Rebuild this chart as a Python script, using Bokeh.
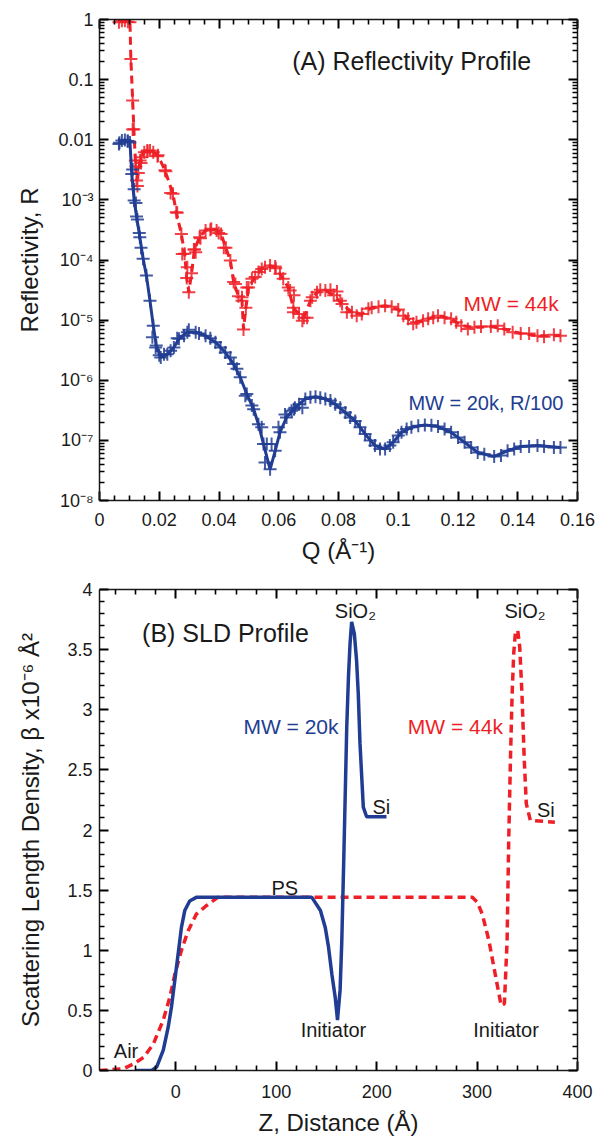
from bokeh.plotting import figure
from bokeh.models import (LinearAxis, LogAxis, FixedTicker, CustomJSTickFormatter, Range1d)
from bokeh.layouts import gridplot
from bokeh.embed import file_html
from bokeh.resources import INLINE
from bokeh.core.properties import value

# ---------------- data: (A) reflectivity, fitted curves ----------------
q_44k = [0.0065, 0.0075, 0.0085, 0.0095, 0.0102, 0.0105, 0.0111, 0.0115, 0.0120, 0.0124,
         0.0130, 0.0136, 0.0141, 0.0150, 0.0160, 0.0169, 0.0180, 0.0196, 0.0219, 0.0246,
         0.0257, 0.0274, 0.0285, 0.0292, 0.0299, 0.0308, 0.0318, 0.0335, 0.0355, 0.0374,
         0.0392, 0.0407, 0.0423, 0.0438, 0.0449, 0.0465, 0.0477, 0.0482, 0.0490, 0.0499,
         0.0521, 0.0543, 0.0571, 0.0590, 0.0604, 0.0632, 0.0649, 0.0668, 0.0684, 0.0706,
         0.0728, 0.0756, 0.0784, 0.0812, 0.0845, 0.0878, 0.0911, 0.0956, 0.1000, 0.1033,
         0.1061, 0.1100, 0.1133, 0.1177, 0.1211, 0.1255, 0.1310, 0.1355, 0.1410, 0.1466,
         0.1543]
r_44k = [0.90, 0.95, 0.95, 0.92, 0.90, 0.22, 0.045, 0.015, 0.0045, 0.0021,
         0.0028, 0.0045, 0.0051, 0.0062, 0.0066, 0.0066, 0.0062, 0.0055, 0.0031, 0.00126,
         6.2e-4, 2.7e-4, 1.27e-4, 5.0e-5, 2.9e-5, 6.0e-5, 1.5e-4, 2.4e-4, 3.1e-4, 3.3e-4,
         3.1e-4, 2.7e-4, 1.6e-4, 9.8e-5, 4.3e-5, 2.5e-5, 2.1e-5, 7.0e-6, 1.6e-5, 3.5e-5,
         5.2e-5, 7.1e-5, 8.1e-5, 7.3e-5, 5.9e-5, 3.5e-5, 1.6e-5, 1.26e-5, 1.1e-5, 2.1e-5,
         2.9e-5, 3.1e-5, 2.6e-5, 1.85e-5, 1.35e-5, 1.26e-5, 1.6e-5, 1.74e-5, 1.5e-5, 1.05e-5,
         9.2e-6, 1.05e-5, 1.18e-5, 1.05e-5, 8.1e-6, 7.6e-6, 7.8e-6, 7.1e-6, 6.0e-6, 5.5e-6,
         5.5e-6]

q_20k = [0.0065, 0.0075, 0.0085, 0.0095, 0.0102, 0.0108, 0.0116, 0.0124, 0.0135, 0.0146,
         0.0157, 0.0169, 0.0180, 0.0190, 0.0205, 0.0227, 0.0249, 0.0266, 0.0294, 0.0322,
         0.0355, 0.0388, 0.0421, 0.0449, 0.0471, 0.0493, 0.0516, 0.0532, 0.0549, 0.0571,
         0.0588, 0.0604, 0.0626, 0.0654, 0.0668, 0.0689, 0.0723, 0.0756, 0.0789, 0.0823,
         0.0856, 0.0889, 0.0922, 0.0956, 0.0983, 0.1011, 0.1044, 0.1089, 0.1133, 0.1177,
         0.1222, 0.1266, 0.1321, 0.1366, 0.1410, 0.1466, 0.1543]
r_20k = [0.0085, 0.0097, 0.0099, 0.0095, 0.0090, 0.0027, 9.8e-4, 5.3e-4, 2.4e-4, 1.05e-4,
         5.5e-5, 2.1e-5, 8.1e-6, 3.8e-6, 2.4e-6, 2.7e-6, 3.5e-6, 4.9e-6, 6.3e-6, 6.3e-6,
         5.5e-6, 4.3e-6, 2.9e-6, 1.86e-6, 1.12e-6, 5.9e-7, 3.3e-7, 1.86e-7, 8.7e-8, 3.3e-8,
         6.7e-8, 1.36e-7, 2.4e-7, 3.5e-7, 4.0e-7, 4.9e-7, 5.3e-7, 4.9e-7, 4.0e-7, 2.9e-7,
         2.1e-7, 1.28e-7, 8.2e-8, 7.2e-8, 9.3e-8, 1.36e-7, 1.65e-7, 1.8e-7, 1.7e-7, 1.36e-7,
         9.3e-8, 6.3e-8, 5.4e-8, 6.7e-8, 7.9e-8, 8.2e-8, 7.6e-8]

# additional measured points (markers only)
q_44k_extra = [0.0111, 0.0122, 0.0127, 0.0139, 0.0161, 0.0194, 0.0222, 0.0238, 0.0260, 0.0277,
               0.0294, 0.0316, 0.0322, 0.0338, 0.0371, 0.0399, 0.0416, 0.0455, 0.0477, 0.0493,
               0.0510, 0.0532, 0.0554, 0.0588, 0.0615, 0.0638, 0.0649, 0.0651, 0.0679, 0.0695,
               0.0712, 0.0739, 0.0773, 0.0795, 0.0806, 0.0828, 0.0861, 0.0900, 0.0934, 0.0978,
               0.1017, 0.1050, 0.1083, 0.1117, 0.1155, 0.1194, 0.1233, 0.1277, 0.1333, 0.1383,
               0.1438, 0.1488, 0.1521]
r_44k_extra = [0.0148, 3.6e-3, 1.7e-3, 4.1e-3, 6.4e-3, 5.3e-3, 3.0e-3, 1.3e-3, 6.1e-4, 1.26e-4,
               7.6e-5, 1.5e-4, 1.35e-4, 2.3e-4, 3.2e-4, 2.8e-4, 1.6e-4, 4.0e-5, 2.4e-5, 3.5e-5,
               4.9e-5, 6.3e-5, 7.6e-5, 7.8e-5, 4.9e-5, 3.1e-5, 1.35e-5, 2.6e-5, 9.8e-6, 1.1e-5,
               2.4e-5, 3.2e-5, 3.2e-5, 3.0e-5, 2.1e-5, 1.35e-5, 1.18e-5, 1.54e-5, 1.67e-5, 1.67e-5,
               1.18e-5, 8.7e-6, 9.8e-6, 1.1e-5, 1.1e-5, 9.2e-6, 7.1e-6, 7.8e-6, 8.1e-6, 6.3e-6,
               6.0e-6, 5.3e-6, 5.7e-6]

q_20k_extra = [0.0067, 0.0094, 0.0111, 0.0116, 0.0122, 0.0127, 0.0133, 0.0139, 0.0177, 0.0188,
               0.0200, 0.0216, 0.0238, 0.0260, 0.0283, 0.0299, 0.0333, 0.0371, 0.0405, 0.0438,
               0.0460, 0.0488, 0.0510, 0.0543, 0.0560, 0.0554, 0.0576, 0.0599, 0.0621, 0.0643,
               0.0651, 0.0679, 0.0706, 0.0739, 0.0773, 0.0806, 0.0839, 0.0872, 0.0906, 0.0939,
               0.0972, 0.1000, 0.1028, 0.1067, 0.1111, 0.1155, 0.1200, 0.1244, 0.1288, 0.1344,
               0.1388, 0.1438, 0.1488, 0.1521]
r_20k_extra = [8.9e-3, 9.4e-3, 3.2e-3, 1.5e-3, 8.9e-4, 4.7e-4, 2.8e-4, 1.6e-4, 5.2e-6, 3.5e-6,
               2.6e-6, 2.7e-6, 3.1e-6, 5.0e-6, 5.5e-6, 6.9e-6, 6.0e-6, 5.0e-6, 3.5e-6, 2.4e-6,
               1.55e-6, 5.5e-7, 3.8e-7, 1.65e-7, 8.7e-8, 4.3e-8, 8.7e-8, 1.65e-7, 2.7e-7, 3.1e-7,
               3.3e-7, 3.5e-7, 5.2e-7, 5.1e-7, 4.6e-7, 3.5e-7, 2.4e-7, 1.65e-7, 1.0e-7, 7.2e-8,
               8.2e-8, 1.2e-7, 1.55e-7, 1.75e-7, 1.78e-7, 1.55e-7, 1.12e-7, 7.6e-8, 5.9e-8, 5.6e-8,
               7.2e-8, 7.9e-8, 7.9e-8, 7.6e-8]

# ---------------- data: (B) SLD profile ----------------
z_20k = [-40.5, -24, -19, -12.5, -7.6, -4.3, -1, 2.3, 5.6, 8.9, 13.8, 20.4, 135.5, 144,
         148.8, 152, 155.4, 158.7, 161, 163.6, 165.3, 167.5, 170.2, 171.9, 173.5, 175.1,
         177.8, 180, 181.7, 183.4, 186.7, 190, 209.8]
sld_20k = [0, 0, 0.03, 0.17, 0.36, 0.53, 0.75, 0.97, 1.19, 1.33, 1.41, 1.44, 1.44, 1.33,
           1.19, 1.03, 0.80, 0.61, 0.42, 0.67, 1.08, 1.85, 2.85, 3.27, 3.55, 3.73,
           3.63, 3.41, 3.13, 2.72, 2.19, 2.11, 2.11]

z_44k = [-76, -52, -42, -32, -22.4, -12.5, -5.9, -1, 5.6, 12.2, 20.4, 30.3, 41.8, 295.3,
         300.2, 305.2, 311.8, 316.7, 321.7, 324, 327.2, 329.9, 331.5, 333.2, 334.9, 336.5,
         338.2, 340.5, 342.5, 344.7, 347, 349, 353, 377.5]
sld_44k = [0, 0.015, 0.055, 0.11, 0.22, 0.42, 0.61, 0.80, 1.0, 1.16, 1.30, 1.37, 1.44, 1.44,
           1.40, 1.30, 1.08, 0.86, 0.64, 0.54, 0.555, 1.08, 1.91, 2.58, 3.13, 3.47,
           3.645, 3.66, 3.52, 3.13, 2.58, 2.22, 2.08, 2.065]

# ---------------- ticks ----------------
x_ticks_a = [0, 0.02, 0.04, 0.06, 0.08, 0.1, 0.12, 0.14, 0.16]
x_minor_a = [i * 0.005 for i in range(33) if i % 4]
y_ticks_a = [1e-8, 1e-7, 1e-6, 1e-5, 1e-4, 1e-3, 1e-2, 1e-1, 1]
y_minor_a = [k * 10.0 ** e for e in range(-8, 0) for k in range(2, 10)]
x_ticks_b = [0, 100, 200, 300, 400]
x_minor_b = [v for v in range(-60, 400, 20) if v % 100]
y_ticks_b = [0, 0.5, 1, 1.5, 2, 2.5, 3, 3.5, 4]
y_minor_b = [i / 10 for i in range(1, 40) if i % 5]

FONT = "Liberation Sans"
RED = "#ee1f26"
BLUE = "#213d93"
INK = "#1a1a1a"


def style_axis(ax):
    ax.axis_line_width = 1.5
    ax.axis_line_color = INK
    ax.major_tick_in = 9
    ax.major_tick_out = 0
    ax.minor_tick_in = 5
    ax.minor_tick_out = 0
    ax.major_tick_line_width = 2
    ax.minor_tick_line_width = 1.6
    ax.major_tick_line_color = "black"
    ax.minor_tick_line_color = "black"
    ax.major_label_text_font = FONT
    ax.major_label_text_font_size = "18px"
    ax.major_label_text_color = INK
    ax.axis_label_text_font = FONT
    ax.axis_label_text_font_size = "24px"
    ax.axis_label_text_font_style = "normal"
    ax.axis_label_text_color = INK


blank = CustomJSTickFormatter(code="return '';")

# ---------------- panel A ----------------
p1 = figure(width=603, height=570, y_axis_type="log",
            x_range=Range1d(0, 0.16), y_range=Range1d(1e-8, 1),
            output_backend="svg", toolbar_location=None,
            min_border_left=96, min_border_right=26, min_border_top=19, min_border_bottom=70)
p1.grid.visible = False
p1.outline_line_color = None

xa_ticker = FixedTicker(ticks=x_ticks_a, minor_ticks=x_minor_a)
ya_ticker = FixedTicker(ticks=y_ticks_a, minor_ticks=y_minor_a)
p1.xaxis.ticker = xa_ticker
p1.xaxis.formatter = CustomJSTickFormatter(code="return String(Math.round(tick*100)/100);")
p1.yaxis.ticker = ya_ticker
p1.yaxis.formatter = CustomJSTickFormatter(code="""
const e = Math.round(Math.log10(tick));
if (e === 0) return "1";
if (e === -1) return "0.1";
if (e === -2) return "0.01";
const sup = {"-":"\u207b","0":"\u2070","1":"\u00b9","2":"\u00b2","3":"\u00b3","4":"\u2074",
             "5":"\u2075","6":"\u2076","7":"\u2077","8":"\u2078","9":"\u2079"};
return "10" + String(e).split("").map(c => sup[c]).join("");
""")
p1.xaxis.axis_label = "Q (Å\u207b\u00b9)"
p1.yaxis.axis_label = "Reflectivity, R"
for ax in p1.xaxis + p1.yaxis:
    style_axis(ax)
p1.xaxis.major_label_standoff = 12
p1.xaxis.axis_label_standoff = 8
p1.yaxis.major_label_standoff = 6
p1.yaxis.axis_label_standoff = 12

top1 = LinearAxis(ticker=xa_ticker, formatter=blank)
right1 = LogAxis(ticker=ya_ticker, formatter=blank)
for ax in (top1, right1):
    style_axis(ax)
    ax.major_label_standoff = 0
p1.add_layout(top1, "above")
p1.add_layout(right1, "right")

p1.scatter(q_44k + q_44k_extra, r_44k + r_44k_extra, marker="cross", size=13,
           line_color=RED, line_width=2, line_alpha=0.85)
p1.line(q_44k, r_44k, line_color=RED, line_width=3, line_dash="8 5")
p1.scatter(q_20k + q_20k_extra, r_20k + r_20k_extra, marker="cross", size=13,
           line_color=BLUE, line_width=2, line_alpha=0.85)
p1.line(q_20k, r_20k, line_color=BLUE, line_width=3)

p1.text(x=[0.0645], y=[0.208], text=["(A) Reflectivity Profile"], text_font=value(FONT),
        text_font_size="25px", text_baseline="middle", text_align="left", text_color=INK)
p1.text(x=[0.1537], y=[1.88e-5], text=["MW = 44k"], text_font=value(FONT),
        text_font_size="21px", text_baseline="middle", text_align="right", text_color=RED)
p1.text(x=[0.1553], y=[4.24e-7], text=["MW = 20k, R/100"], text_font=value(FONT),
        text_font_size="20px", text_baseline="middle", text_align="right", text_color=BLUE)

# ---------------- panel B ----------------
p2 = figure(width=603, height=569, x_range=Range1d(-76, 400), y_range=Range1d(0, 4),
            output_backend="svg", toolbar_location=None,
            min_border_left=99, min_border_right=22, min_border_top=19, min_border_bottom=69)
p2.grid.visible = False
p2.outline_line_color = None

xb_ticker = FixedTicker(ticks=x_ticks_b, minor_ticks=x_minor_b)
yb_ticker = FixedTicker(ticks=y_ticks_b, minor_ticks=y_minor_b)
p2.xaxis.ticker = xb_ticker
p2.yaxis.ticker = yb_ticker
p2.yaxis.formatter = CustomJSTickFormatter(code="return String(Math.round(tick*10)/10);")
p2.xaxis.axis_label = "Z, Distance (Å)"
p2.yaxis.axis_label = "Scattering Length Density, β x10\u207b\u2076 Å\u00b2"
for ax in p2.xaxis + p2.yaxis:
    style_axis(ax)
p2.xaxis.major_label_standoff = 14
p2.xaxis.axis_label_standoff = 8
p2.yaxis.major_label_standoff = 7
p2.yaxis.axis_label_standoff = 20

top2 = LinearAxis(ticker=xb_ticker, formatter=blank)
right2 = LinearAxis(ticker=yb_ticker, formatter=blank)
for ax in (top2, right2):
    style_axis(ax)
    ax.major_label_standoff = 0
p2.add_layout(top2, "above")
p2.add_layout(right2, "right")

p2.line(z_44k, sld_44k, line_color=RED, line_width=3.5, line_dash="8 5")
p2.line(z_20k, sld_20k, line_color=BLUE, line_width=3.5)

lab_font = dict(text_font=value(FONT), text_baseline="middle")
p2.text(x=[-33.6], y=[3.64], text=["(B) SLD Profile"], text_font_size="25px",
        text_align="left", text_color=INK, **lab_font)
p2.text(x=[162], y=[2.86], text=["MW = 20k"], text_font_size="21px",
        text_align="right", text_color=BLUE, **lab_font)
p2.text(x=[231], y=[2.86], text=["MW = 44k"], text_font_size="21px",
        text_align="left", text_color=RED, **lab_font)
p2.text(x=[178.8, 347.7], y=[3.825, 3.825], text=["SiO\u2082", "SiO\u2082"], text_font_size="20px",
        text_align="center", text_color=INK, **lab_font)
p2.text(x=[204.7, 368.4], y=[2.19, 2.17], text=["Si", "Si"], text_font_size="20px",
        text_align="center", text_color=INK, **lab_font)
p2.text(x=[108.5], y=[1.518], text=["PS"], text_font_size="20px",
        text_align="center", text_color=INK, **lab_font)
p2.text(x=[-49.6], y=[0.166], text=["Air"], text_font_size="20px",
        text_align="center", text_color=INK, **lab_font)
p2.text(x=[157, 328.9], y=[0.34, 0.34], text=["Initiator", "Initiator"], text_font_size="20px",
        text_align="center", text_color=INK, **lab_font)

layout = gridplot([[p1], [p2]], toolbar_location=None)
open("out.html", "w").write(file_html(layout, INLINE))
